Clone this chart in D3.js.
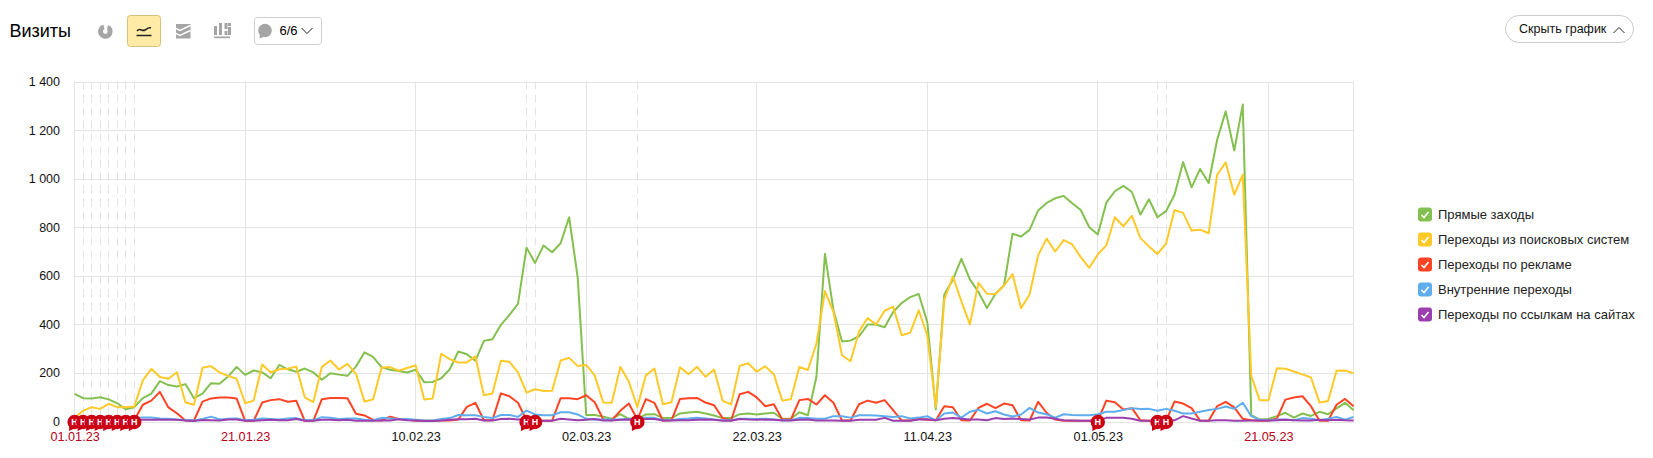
<!DOCTYPE html>
<html><head><meta charset="utf-8">
<script src="https://cdn.jsdelivr.net/npm/d3@7"></script>
<style>html,body{margin:0;padding:0;background:#fff}svg{display:block}text{font-family:"Liberation Sans",Arial,sans-serif}</style>
</head><body><div id="c"></div>
<script>
const green=[114,96,95,100,91,75,50,59,96,115,166,150,144,154,96,115,158,155,185,225,192,210,202,178,233,215,205,218,202,172,199,193,188,226,285,266,224,213,208,202,213,162,163,178,215,288,277,250,332,339,398,439,484,716,653,725,697,734,841,594,27,27,20,11,30,11,11,29,30,14,14,33,37,40,33,25,14,14,30,33,29,33,36,11,11,38,26,184,690,458,329,333,351,399,399,388,451,488,512,525,410,50,523,584,670,585,533,467,526,560,773,762,789,869,900,919,929,899,871,800,770,901,948,970,945,852,915,841,866,934,1068,964,1040,982,1160,1277,1116,1305,26,8,10,22,36,16,33,23,40,30,54,77,46];
const yellow=[15,44,59,52,73,59,59,62,169,217,183,176,203,78,69,221,228,202,188,176,75,86,235,202,215,217,226,99,80,225,251,214,237,196,82,91,221,224,209,220,231,91,95,279,257,243,243,268,108,115,250,246,202,119,133,126,127,251,262,229,233,190,78,77,225,164,60,190,218,71,79,223,195,225,184,214,85,71,229,240,205,227,195,86,92,225,212,321,537,451,273,248,371,426,399,456,473,355,366,458,355,60,501,597,495,400,571,526,525,560,607,466,523,684,753,700,747,729,677,633,688,725,841,804,847,755,721,690,732,871,859,786,790,775,1016,1067,934,1016,187,87,87,219,217,206,194,181,78,84,209,210,198];
const red=[2,2,2,2,2,2,3,5,69,86,122,58,34,4,4,82,95,99,99,95,3,3,78,88,92,81,85,3,3,92,97,97,96,32,25,7,4,20,10,7,3,3,3,4,4,8,60,77,5,5,116,104,77,5,3,3,3,96,96,92,108,79,8,5,44,74,8,92,77,3,5,93,96,97,78,67,14,5,112,122,99,63,71,8,8,88,93,70,108,77,4,4,71,86,77,88,47,4,4,11,7,5,63,59,5,4,56,73,55,74,67,5,4,81,36,8,3,3,3,3,3,86,79,49,55,5,3,3,3,82,74,55,3,3,63,81,58,11,5,3,3,12,90,99,104,63,3,3,69,93,63];
const blue=[5,5,5,5,5,8,10,14,16,16,12,11,8,6,4,10,20,8,11,12,5,7,12,10,8,12,14,5,5,18,15,10,12,12,7,4,15,12,10,10,7,4,4,10,14,27,26,26,19,14,27,27,19,45,29,26,26,38,38,29,11,8,8,8,8,11,11,15,15,5,5,10,12,15,12,8,5,5,11,11,10,11,8,5,5,15,14,11,11,22,22,16,26,26,25,22,19,22,12,16,22,5,33,37,16,40,48,33,42,29,21,29,56,37,30,16,30,27,26,26,30,40,40,47,55,51,52,44,52,44,33,33,40,47,52,62,52,77,22,7,5,8,8,5,14,11,5,11,19,7,19];
const purple=[7,7,7,7,7,7,7,7,7,7,7,7,7,4,2,6,5,4,8,8,3,3,5,7,5,5,10,3,3,7,7,5,7,3,3,3,4,4,9,5,4,2,2,4,7,9,9,11,4,4,10,11,8,9,3,3,3,11,8,5,7,10,4,4,7,8,7,10,10,4,4,5,5,7,8,7,3,3,10,8,7,8,7,4,4,7,8,4,4,4,3,3,7,7,7,15,3,3,3,8,9,5,11,14,11,8,8,5,14,10,12,10,8,16,16,11,5,4,3,3,5,15,15,15,11,3,3,3,3,5,22,12,3,3,5,5,3,3,4,4,4,5,7,5,4,4,7,5,7,5,4];
const seriesNames=["Прямые заходы","Переходы из поисковых систем","Переходы по рекламе","Внутренние переходы","Переходы по ссылкам на сайтах"];
const seriesColors=["#84c04f","#ffc928","#ff4325","#5fadec","#9b3fae"];
const yTicks=[0,200,400,600,800,1000,1200,1400];
const xTickDays=[0,20,40,60,80,100,120,140];
const xTickLabels=["01.01.23","21.01.23","10.02.23","02.03.23","22.03.23","11.04.23","01.05.23","21.05.23"];
const xTickRed=[true,true,false,false,false,false,false,true];
const noteDays=[0,1,2,3,4,5,6,7,53,54,66,120,127,128];

const W=1653,H=458;
const svg=d3.select("#c").append("svg").attr("width",W).attr("height",H);
const x=d3.scaleLinear().domain([0,150]).range([74.6,1353.6]);
const y=d3.scaleLinear().domain([0,1400]).range([421.5,81.5]);
const grid="#e4e4e4";

// header
svg.append("text").attr("x",9.5).attr("y",36.5).attr("font-size",18).attr("fill","#000").text("Визиты");
const g0=svg.append("g");
const gray="#a5a5a5";
// pie icon
g0.append("path").attr("transform","translate(105.3,31.5)").attr("fill",gray)
  .attr("d",d3.arc()({innerRadius:2.4,outerRadius:7.3,startAngle:0.7,endAngle:6.0}));
g0.append("path").attr("transform","translate(106.2,30.5)").attr("fill",gray)
  .attr("d",d3.arc()({innerRadius:2.4,outerRadius:5.8,startAngle:0.35,endAngle:1.3}));
// active button
g0.append("rect").attr("x",127.5).attr("y",15.5).attr("width",33).attr("height",31).attr("rx",3).attr("fill","#ffeba5").attr("stroke","#d8c07c");
g0.append("path").attr("d","M137 31 C140 27,142 32,145 30 S149 27,151 28").attr("fill","none").attr("stroke","#222").attr("stroke-width",1.6);
g0.append("path").attr("d","M136.5 35.5H151.5").attr("stroke","#222").attr("stroke-width",1.5);
// stacked icon
g0.append("rect").attr("x",176).attr("y",24).attr("width",14.5).attr("height",14.5).attr("fill",gray);
["M176 28.5 L180 30.5 L186 27.5 L190.5 25.5","M176 33.5 L180 35.5 L186 32.5 L190.5 30.5"].forEach(d=>g0.append("path").attr("d",d).attr("fill","none").attr("stroke","#fff").attr("stroke-width",1.4));
// bars icon
[[214,26,9],[219,23,12],[224.5,23,6],[224.5,31,4],[228,23,3],[228,27,8]].forEach(d=>g0.append("rect").attr("x",d[0]).attr("y",d[1]).attr("width",3).attr("height",d[2]).attr("fill",gray));
g0.append("rect").attr("x",214).attr("y",36.5).attr("width",16).attr("height",1.7).attr("fill",gray);
// dropdown
g0.append("rect").attr("x",254.5).attr("y",17.5).attr("width",67).attr("height",27).attr("rx",3).attr("fill","#fff").attr("stroke","#cfcfcf");
g0.append("circle").attr("cx",265).attr("cy",30.5).attr("r",6.8).attr("fill",gray);
g0.append("path").attr("d","M260 34 L259.5 38.5 L266 36Z").attr("fill",gray);
svg.append("text").attr("x",279.5).attr("y",35).attr("font-size",13).attr("fill","#000").text("6/6");
g0.append("path").attr("d","M301.5 28 L307 33.5 L312.5 28").attr("fill","none").attr("stroke","#222");
// hide button
g0.append("rect").attr("x",1505.5).attr("y",15.5).attr("width",128).attr("height",27).attr("rx",13.5).attr("fill","#fff").attr("stroke","#cccccc");
svg.append("text").attr("x",1519).attr("y",33).attr("font-size",12.5).attr("fill","#111").text("Скрыть график");
g0.append("path").attr("d","M1613.5 33 L1619 27.5 L1624.5 33").attr("fill","none").attr("stroke","#222");

// grid
const gg=svg.append("g");
gg.selectAll("line.h").data(yTicks).join("line").attr("class","h").attr("x1",x(0)).attr("x2",x(150))
  .attr("y1",d=>Math.round(y(d))+.5).attr("y2",d=>Math.round(y(d))+.5).attr("stroke",grid);
gg.selectAll("line.v").data([...xTickDays,150]).join("line").attr("class","v").attr("y1",y(1400)).attr("y2",y(0))
  .attr("x1",d=>Math.floor(x(d))+.5).attr("x2",d=>Math.floor(x(d))+.5).attr("stroke",grid);
gg.selectAll("line.n").data(noteDays).join("line").attr("class","n").attr("y1",y(1400)).attr("y2",y(0))
  .attr("x1",d=>Math.floor(x(d))+.5).attr("x2",d=>Math.floor(x(d))+.5).attr("stroke",grid).attr("stroke-dasharray","8 5");

// y labels
svg.selectAll("text.yl").data(yTicks).join("text").attr("class","yl").attr("x",60).attr("y",d=>y(d)+4.5)
  .attr("text-anchor","end").attr("font-size",12.5).attr("fill","#111")
  .text(d=>d>=1000?d3.format(",")(d).replace(","," "):d);
// x labels
svg.selectAll("text.xl").data(xTickDays).join("text").attr("class","xl").attr("x",d=>x(d)+.5).attr("y",441)
  .attr("text-anchor","middle").attr("font-size",12.7).attr("fill",(d,i)=>xTickRed[i]?"#b8001a":"#111")
  .text((d,i)=>xTickLabels[i]);

// lines
const line=d3.line().x((d,i)=>x(i)).y(d=>y(d));
[green,yellow,red,blue,purple].forEach((s,k)=>{
  svg.append("path").datum(s).attr("d",line).attr("fill","none").attr("stroke",seriesColors[k]).attr("stroke-width",2).attr("stroke-linejoin","round");
});

// note flags
const fl=svg.selectAll("g.flag").data(noteDays).join("g").attr("class","flag").attr("transform",d=>`translate(${x(d)},422)`);
fl.append("path").attr("d","M-5.5 3 L-5.5 9 L1 6Z").attr("fill","#cc0014");
fl.append("circle").attr("r",7.2).attr("fill","#cc0014");
fl.append("text").attr("text-anchor","middle").attr("y",3.3).attr("font-size",9).attr("font-weight","bold").attr("fill","#fff").text("Н");

// legend
const lg=svg.selectAll("g.leg").data(seriesNames).join("g").attr("class","leg").attr("transform",(d,i)=>`translate(1418,${214.5+i*25})`);
lg.append("rect").attr("y",-7).attr("width",14).attr("height",14).attr("rx",3).attr("fill",(d,i)=>seriesColors[i]);
lg.append("path").attr("d","M3.5 0.5 L6 3 L10.5 -2.5").attr("fill","none").attr("stroke","#fff").attr("stroke-width",1.6);
lg.append("text").attr("x",20).attr("y",4.5).attr("font-size",13).attr("fill","#222").text(d=>d);
</script></body></html>
